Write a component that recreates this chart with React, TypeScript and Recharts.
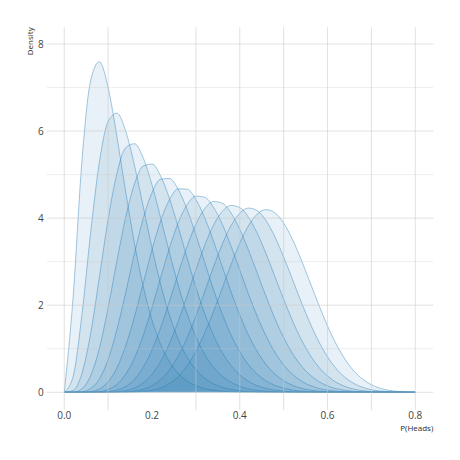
import React from 'react';
import { AreaChart, Area, XAxis, YAxis, ReferenceLine, Label } from 'recharts';

// P(Heads) grid
const pHeads = [
  0, 0.02, 0.04, 0.06, 0.08, 0.1, 0.12, 0.14, 0.16, 0.18,
  0.2, 0.22, 0.24, 0.26, 0.28, 0.3, 0.32, 0.34, 0.36, 0.38,
  0.4, 0.42, 0.44, 0.46, 0.48, 0.5, 0.52, 0.54, 0.56, 0.58,
  0.6, 0.62, 0.64, 0.66, 0.68, 0.7, 0.72, 0.74, 0.76, 0.78,
  0.8,
];

// density curves (one per number of heads)
const heads2 = [
  0, 2.161, 5.271, 7.155, 7.592, 7.0, 5.878, 4.608, 3.421, 2.428,
  1.658, 1.092, 0.697, 0.431, 0.259, 0.151, 0.086, 0.047, 0.025, 0.013,
  0.007, 0.003, 0.002, 0.001, 0, 0, 0, 0, 0, 0,
  0, 0, 0, 0, 0, 0, 0, 0, 0, 0,
  0,
];
const heads3 = [
  0, 0.353, 1.757, 3.654, 5.281, 6.222, 6.412, 6.0, 5.213, 4.265,
  3.315, 2.465, 1.761, 1.212, 0.806, 0.519, 0.323, 0.195, 0.114, 0.065,
  0.035, 0.019, 0.01, 0.005, 0.002, 0.001, 0, 0, 0, 0,
  0, 0, 0, 0, 0, 0, 0, 0, 0, 0,
  0,
];
const heads4 = [
  0, 0.041, 0.421, 1.341, 2.641, 3.975, 5.027, 5.617, 5.71, 5.383,
  4.765, 3.997, 3.197, 2.449, 1.803, 1.278, 0.875, 0.578, 0.369, 0.228,
  0.136, 0.078, 0.044, 0.023, 0.012, 0.006, 0.003, 0.001, 0.001, 0,
  0, 0, 0, 0, 0, 0, 0, 0, 0, 0,
  0,
];
const heads5 = [
  0, 0.004, 0.077, 0.377, 1.01, 1.943, 3.016, 4.023, 4.785, 5.199,
  5.242, 4.961, 4.442, 3.786, 3.085, 2.411, 1.811, 1.31, 0.914, 0.615,
  0.399, 0.25, 0.151, 0.088, 0.049, 0.026, 0.014, 0.007, 0.003, 0.001,
  0.001, 0, 0, 0, 0, 0, 0, 0, 0, 0,
  0,
];
const heads6 = [
  0, 0, 0.011, 0.084, 0.307, 0.756, 1.44, 2.292, 3.19, 3.994,
  4.587, 4.897, 4.91, 4.656, 4.199, 3.616, 2.983, 2.362, 1.799, 1.318,
  0.931, 0.633, 0.415, 0.262, 0.159, 0.093, 0.052, 0.028, 0.014, 0.007,
  0.003, 0.001, 0.001, 0, 0, 0, 0, 0, 0, 0,
  0,
];
const heads7 = [
  0, 0, 0.001, 0.015, 0.076, 0.24, 0.561, 1.066, 1.736, 2.505,
  3.276, 3.947, 4.43, 4.674, 4.665, 4.428, 4.01, 3.476, 2.891, 2.309,
  1.773, 1.31, 0.932, 0.637, 0.419, 0.265, 0.16, 0.093, 0.052, 0.027,
  0.014, 0.006, 0.003, 0.001, 0, 0, 0, 0, 0, 0,
  0,
];
const heads8 = [
  0, 0, 0, 0.002, 0.016, 0.063, 0.182, 0.412, 0.785, 1.306,
  1.945, 2.644, 3.322, 3.9, 4.309, 4.507, 4.482, 4.253, 3.862, 3.361,
  2.808, 2.253, 1.738, 1.289, 0.919, 0.629, 0.413, 0.259, 0.156, 0.089,
  0.049, 0.025, 0.012, 0.006, 0.002, 0.001, 0, 0, 0, 0,
  0,
];
const heads9 = [
  0, 0, 0, 0, 0.003, 0.014, 0.05, 0.134, 0.299, 0.573,
  0.973, 1.491, 2.098, 2.741, 3.351, 3.863, 4.218, 4.382, 4.344, 4.12,
  3.743, 3.263, 2.732, 2.196, 1.696, 1.257, 0.894, 0.609, 0.397, 0.247,
  0.146, 0.082, 0.044, 0.022, 0.01, 0.004, 0.002, 0.001, 0, 0,
  0,
];
const heads10 = [
  0, 0, 0, 0, 0, 0.003, 0.011, 0.037, 0.097, 0.214,
  0.413, 0.715, 1.127, 1.637, 2.216, 2.814, 3.375, 3.838, 4.154, 4.292,
  4.243, 4.017, 3.649, 3.18, 2.661, 2.137, 1.646, 1.215, 0.858, 0.579,
  0.372, 0.228, 0.132, 0.072, 0.037, 0.017, 0.008, 0.003, 0.001, 0,
  0,
];
const heads11 = [
  0, 0, 0, 0, 0, 0, 0.002, 0.009, 0.027, 0.068,
  0.15, 0.293, 0.517, 0.837, 1.253, 1.754, 2.31, 2.876, 3.399, 3.827,
  4.114, 4.231, 4.17, 3.941, 3.573, 3.108, 2.594, 2.075, 1.589, 1.164,
  0.813, 0.54, 0.341, 0.203, 0.113, 0.059, 0.029, 0.013, 0.005, 0.002,
  0.001,
];
const heads12 = [
  0, 0, 0, 0, 0, 0, 0, 0.002, 0.006, 0.019,
  0.047, 0.103, 0.204, 0.367, 0.609, 0.94, 1.359, 1.852, 2.39, 2.932,
  3.428, 3.83, 4.095, 4.196, 4.123, 3.886, 3.513, 3.045, 2.528, 2.008,
  1.524, 1.101, 0.757, 0.491, 0.3, 0.172, 0.092, 0.045, 0.02, 0.008,
  0.003,
];

const seriesNames = ['h2', 'h3', 'h4', 'h5', 'h6', 'h7', 'h8', 'h9', 'h10', 'h11', 'h12'];
const seriesValues = [heads2, heads3, heads4, heads5, heads6, heads7, heads8, heads9, heads10, heads11, heads12];

const xTicks = [0, 0.2, 0.4, 0.6, 0.8];
const yTicks = [0, 2, 4, 6, 8];
const gridX = [0, 0.1, 0.3, 0.4, 0.5, 0.6, 0.7, 0.8];
const gridYMajor = [0, 2, 4, 6, 8];
const gridYMinor = [1, 3, 5, 7];

const data = pHeads.map((p, i) => {
  const row: Record<string, number> = { p };
  seriesNames.forEach((n, j) => {
    row[n] = seriesValues[j][i];
  });
  return row;
});

const FONT = '"Open Sans", "Noto Sans", sans-serif';
const BLUE = '#1f77b4';

export default function App() {
  return (
    <div style={{ position: 'absolute', left: 0, top: 0, width: 460, height: 460, background: '#fff' }}>
      <AreaChart
        width={460}
        height={460}
        data={data}
        margin={{ top: 27.3, right: 26.7, bottom: 20, left: 6.7 }}
      >
        <XAxis
          dataKey="p"
          type="number"
          domain={[-0.04, 0.841]}
          ticks={xTicks}
          tickFormatter={(v: number) => v.toFixed(1)}
          axisLine={false}
          tickLine={false}
          tickSize={0}
          tickMargin={2}
          height={30}
          allowDataOverflow
          tick={{ fontSize: 10, fill: '#444', fontFamily: FONT }}
        >
          <Label
            content={(props: any) => {
              const vb = props.viewBox || { x: 46.7, y: 410, width: 386.6 };
              return (
                <text
                  x={vb.x + vb.width}
                  y={430.5}
                  textAnchor="end"
                  fontSize={8}
                  fill="#2a2a2a"
                  fontFamily={FONT}
                >
                  P(Heads)
                </text>
              );
            }}
          />
        </XAxis>
        <YAxis
          type="number"
          domain={[-0.407, 8.384]}
          ticks={yTicks}
          axisLine={false}
          tickLine={false}
          tickSize={0}
          tickMargin={3}
          width={40}
          allowDataOverflow
          tick={{ fontSize: 10, fill: '#444', fontFamily: FONT }}
        >
          <Label
            content={(props: any) => {
              const vb = props.viewBox || { x: 6.7, y: 27.3 };
              return (
                <text
                  x={0}
                  y={0}
                  transform={`translate(30, ${vb.y}) rotate(-90)`}
                  textAnchor="end"
                  dy="0.35em"
                  fontSize={8}
                  fill="#2a2a2a"
                  fontFamily={FONT}
                >
                  Density
                </text>
              );
            }}
          />
        </YAxis>
        {seriesNames.map((n) => (
          <Area
            key={n}
            dataKey={n}
            type="monotone"
            baseValue={0}
            stroke={BLUE}
            strokeOpacity={0.5}
            strokeWidth={0.8}
            fill={BLUE}
            fillOpacity={0.1}
            dot={false}
            activeDot={false}
            isAnimationActive={false}
          />
        ))}
        {gridYMinor.map((v) => (
          <ReferenceLine key={'ym' + v} y={v} stroke="#c8c8c8" strokeOpacity={0.3} strokeWidth={1} />
        ))}
        {gridYMajor.map((v) => (
          <ReferenceLine key={'yM' + v} y={v} stroke="#c8c8c8" strokeOpacity={0.55} strokeWidth={1} />
        ))}
        {gridX.map((v) => (
          <ReferenceLine key={'x' + v} x={v} stroke="#c8c8c8" strokeOpacity={0.55} strokeWidth={1} />
        ))}
      </AreaChart>
    </div>
  );
}
